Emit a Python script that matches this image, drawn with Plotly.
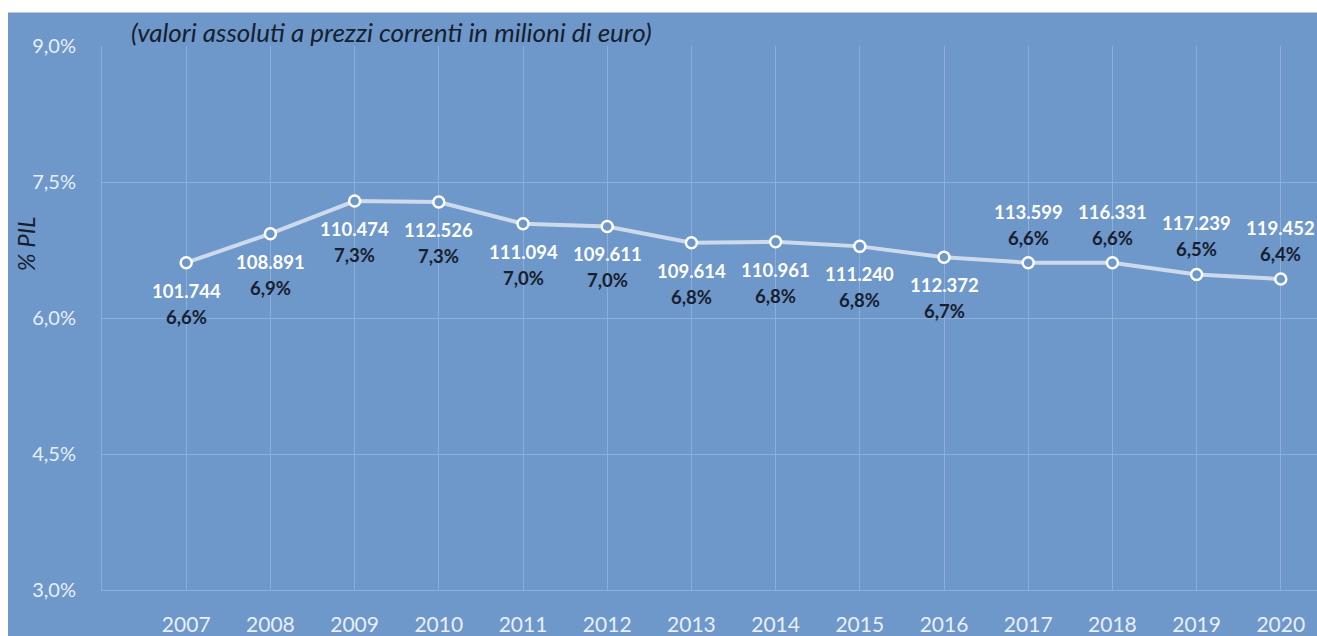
import plotly.graph_objects as go

# Spesa, % del PIL e valori assoluti (milioni di euro, prezzi correnti)
years = [2007, 2008, 2009, 2010, 2011, 2012, 2013, 2014, 2015, 2016, 2017, 2018, 2019, 2020]
pct_pil = [6.61, 6.93, 7.29, 7.28, 7.04, 7.01, 6.83, 6.84, 6.79, 6.67, 6.61, 6.61, 6.48, 6.43]
valori_mln = [101744, 108891, 110474, 112526, 111094, 109611, 109614,
              110961, 111240, 112372, 113599, 116331, 117239, 119452]
y_ticks = [3.0, 4.5, 6.0, 7.5, 9.0]

W, H = 1317, 636
M_L, M_R, M_T, M_B = 102, 0, 46, 44
PW, PH = W - M_L - M_R, H - M_T - M_B

BG = "#6E97CA"
GRID = "#8DAED9"
LINE = "#CCDAEC"
DARK = "#17202E"
LIGHT = "#E8EFF9"
FONT = "Lato, 'Open Sans', sans-serif"


def px_x(p):
    return (p - M_L) / PW


def px_y(p):
    return (H - M_B - p) / PH


def fmt_pct(v):
    return f"{v:.1f}".replace(".", ",") + "%"


def fmt_mln(v):
    return f"{v:,}".replace(",", ".")


fig = go.Figure()
fig.add_trace(go.Scatter(
    x=years, y=pct_pil, mode="lines+markers",
    line=dict(color=LINE, width=4),
    marker=dict(size=11, color=BG, line=dict(color="white", width=2.5)),
    hoverinfo="skip", showlegend=False,
))

annotations = []
for yr, p, v in zip(years, pct_pil, valori_mln):
    above = yr >= 2017
    sh_num, sh_pct = (51, 25) if above else (-28, -54)
    annotations.append(dict(
        x=yr, y=p, xref="x", yref="y", text=fmt_mln(v), showarrow=False,
        yshift=sh_num, yanchor="middle",
        font=dict(family=FONT, size=18.5, color="white", weight="bold"),
    ))
    annotations.append(dict(
        x=yr, y=p, xref="x", yref="y", text=fmt_pct(p), showarrow=False,
        yshift=sh_pct, yanchor="middle",
        font=dict(family=FONT, size=18.5, color=DARK, weight="bold"),
    ))

annotations.append(dict(
    x=px_x(129), y=px_y(32), xref="paper", yref="paper",
    xanchor="left", yanchor="middle", showarrow=False,
    text="(valori assoluti a prezzi correnti in milioni di euro)",
    font=dict(family=FONT, size=26, color=DARK, style="italic"),
))
annotations.append(dict(
    x=px_x(25), y=px_y(245), xref="paper", yref="paper",
    xanchor="center", yanchor="middle", showarrow=False, textangle=-90,
    text="% PIL",
    font=dict(family=FONT, size=24, color=DARK, style="italic"),
))

shapes = [
    # white frame strips above and to the left of the blue panel
    dict(type="rect", xref="paper", yref="paper", layer="above",
         x0=-0.2, x1=1.2, y0=px_y(12.5), y1=1.2,
         fillcolor="white", line=dict(width=0)),
    dict(type="rect", xref="paper", yref="paper", layer="above",
         x0=-0.2, x1=px_x(8), y0=-0.2, y1=1.2,
         fillcolor="white", line=dict(width=0)),
]

fig.update_layout(
    width=W, height=H,
    margin=dict(l=M_L, r=M_R, t=M_T, b=M_B),
    paper_bgcolor=BG, plot_bgcolor=BG,
    separators=",.",
    annotations=annotations,
    shapes=shapes,
    xaxis=dict(
        range=[2006.0, 2020.43], tickmode="array", tickvals=years,
        ticktext=[str(y) for y in years],
        showgrid=True, gridcolor=GRID, gridwidth=1,
        showline=True, linecolor=GRID, linewidth=1,
        zeroline=False, ticks="", ticklabelstandoff=16,
        tickfont=dict(family=FONT, size=21, color=LIGHT),
    ),
    yaxis=dict(
        range=[3.0, 9.0], tickmode="array", tickvals=y_ticks,
        ticktext=[fmt_pct(t) for t in y_ticks],
        showgrid=True, gridcolor=GRID, gridwidth=1,
        showline=True, linecolor=GRID, linewidth=1,
        zeroline=False, ticks="", ticklabelstandoff=21,
        tickfont=dict(family=FONT, size=20, color=LIGHT),
    ),
)

fig.write_html("out.html")
